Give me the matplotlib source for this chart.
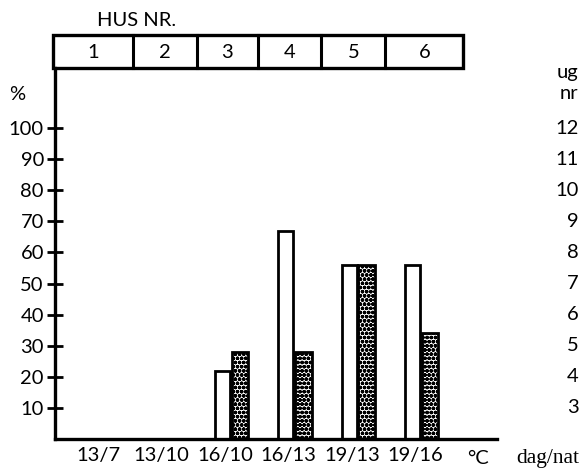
import numpy as np
import matplotlib.pyplot as plt
from matplotlib.patches import Rectangle
from matplotlib.transforms import blended_transform_factory

plt.rcParams['font.family'] = ['Lato', 'DejaVu Sans']
plt.rcParams['hatch.linewidth'] = 1.3

# data
temps = ['13/7', '13/10', '16/10', '16/13', '19/13', '19/16']
houses = ['1', '2', '3', '4', '5', '6']
pct_open = [0, 0, 22, 67, 56, 56]
pct_dotted = [0, 0, 28, 28, 56, 34]
y_ticks = [10, 20, 30, 40, 50, 60, 70, 80, 90, 100]
weeks = [3, 4, 5, 6, 7, 8, 9, 10, 11, 12]

W, H = 580, 470
FS = 14.5
fig = plt.figure(figsize=(W / 100, H / 100), dpi=100)

# main axes in pixel layout
ax = fig.add_axes([55 / W, (H - 439) / H, (497 - 55) / W, (439 - 68) / H])
x = np.arange(len(temps))
ax.set_xlim(-0.68, 6.29)
ax.set_ylim(0, 119.3)

ax.bar(x - 0.04, pct_open, width=0.24, facecolor='white', edgecolor='black', linewidth=2.0)
ax.bar(x + 0.235, pct_dotted, width=0.26, facecolor='white', edgecolor='black',
       linewidth=2.0, hatch='oooo')

for s in ['top', 'right']:
    ax.spines[s].set_visible(False)
for s in ['left', 'bottom']:
    ax.spines[s].set_linewidth(2.4)

ax.set_yticks(y_ticks)
ax.set_yticklabels([str(v) for v in y_ticks], fontsize=FS)
ax.tick_params(axis='y', direction='inout', length=12, width=2.0, pad=2)
ax.set_xticks(x)
ax.set_xticklabels(temps, fontsize=FS)
ax.tick_params(axis='x', length=0, pad=6)

fig.text(17 / W, 1 - 95 / H, '%', fontsize=FS, ha='center', va='center')
fig.text(467 / W, 1 - 458 / H, '°C', fontsize=FS, ha='left', va='center')
fig.text(579 / W, 1 - 459 / H, 'dag/nat', fontsize=15.5, ha='right', va='center',
         family=['Liberation Serif', 'DejaVu Serif'])

# right hand scale: figure x, data y
tr = blended_transform_factory(fig.transFigure, ax.transData)
for v, t in zip(weeks, y_ticks):
    ax.text(579 / W, t, str(v), transform=tr, fontsize=FS, ha='right', va='center',
            clip_on=False)
fig.text(557 / W, 1 - 78 / H, 'ug', fontsize=FS, ha='left', va='baseline')
fig.text(560 / W, 1 - 99 / H, 'nr', fontsize=FS, ha='left', va='baseline')

# header box with house numbers
hx = fig.add_axes([55 / W, (H - 68) / H, (497 - 55) / W, 33 / H])
hx.set_xlim(ax.get_xlim())
hx.set_ylim(0, 1)
hx.axis('off')
edges = [-0.71, 0.55, 1.56, 2.52, 3.52, 4.53, 5.76]
hx.add_patch(Rectangle((edges[0], 0), edges[-1] - edges[0], 1, fill=False,
                       edgecolor='black', linewidth=2.4, clip_on=False))
for e in edges[1:-1]:
    hx.plot([e, e], [0, 1], color='black', linewidth=2.2, clip_on=False)
for i, h in enumerate(houses):
    hx.text((edges[i] + edges[i + 1]) / 2, 0.48, h, fontsize=FS, ha='center', va='center')

fig.text(137 / W, 1 - 21 / H, 'HUS NR.', fontsize=FS, ha='center', va='center')

fig.savefig('out.png', dpi=100)
